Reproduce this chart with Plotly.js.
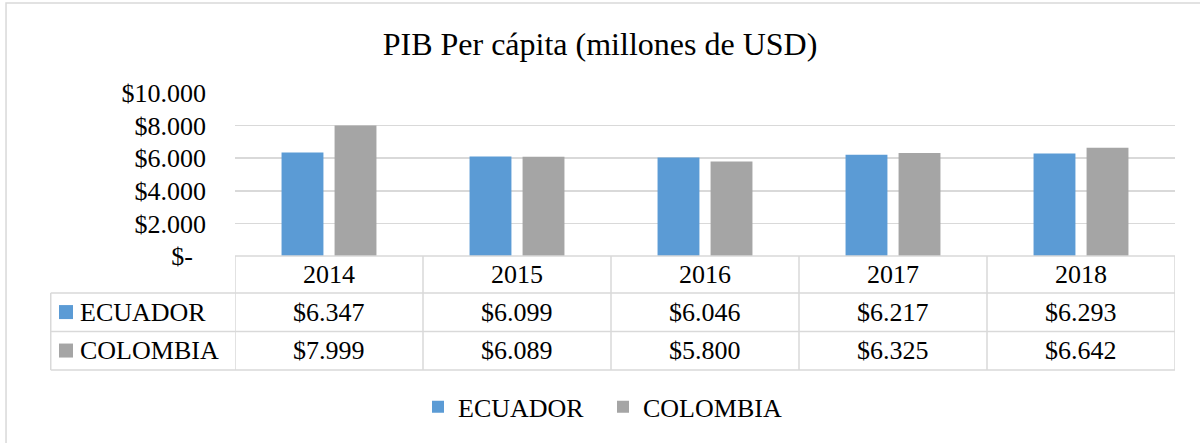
<!DOCTYPE html>
<html>
<head>
<meta charset="utf-8">
<script src="https://cdn.plot.ly/plotly-3.0.1.min.js"></script>
<style>html,body{margin:0;padding:0;background:#fff;}#chart{width:1200px;height:443px;}</style>
</head>
<body>
<div id="chart"></div>
<script>
const years = ['2014', '2015', '2016', '2017', '2018'];
const ecuador = [6347, 6099, 6046, 6217, 6293];
const colombia = [7999, 6089, 5800, 6325, 6642];
const seriesNames = ['ECUADOR', 'COLOMBIA'];
const yTickVals = [0, 2000, 4000, 6000, 8000, 10000];
const titleText = 'PIB Per cápita (millones de USD)';

const colors = ['#5B9BD5', '#A5A5A5'];
const FONT = '"Liberation Serif", "Times New Roman", serif';
const GRID = '#d9d9d9';

function fmt(v) {
  if (v === 0) return '$-\u00a0\u00a0';
  return '$' + v.toString().replace(/\B(?=(\d{3})+(?!\d))/g, '.');
}

const seriesVals = [ecuador, colombia];

const traces = seriesVals.map((vals, i) => ({
  type: 'bar',
  name: seriesNames[i],
  x: years,
  y: vals,
  marker: {color: colors[i]},
  hoverinfo: 'none'
}));

// Table geometry in paper coords (plot area spans y 0..1)
const yHeaderTop = 0, yRow1Top = -0.227, yRow2Top = -0.463, yBottom = -0.699;
const rowCenters = [-0.113, -0.344, -0.580];
const xLeft = -0.196;

const lineStyle = {color: GRID, width: 1.5};
const shapes = [];
// outer frame
shapes.push({type: 'rect', xref: 'paper', yref: 'paper', x0: -0.2436, x1: 1.05, y0: -1.2, y1: 1.552,
  line: {color: GRID, width: 1.5}, fillcolor: 'rgba(0,0,0,0)', layer: 'below'});
// horizontal lines
shapes.push({type: 'line', xref: 'x', yref: 'paper', x0: -0.5, x1: years.length - 0.5, y0: yHeaderTop, y1: yHeaderTop, line: lineStyle});
[yRow1Top, yRow2Top, yBottom].forEach(y => {
  shapes.push({type: 'line', xref: 'paper', yref: 'paper', x0: xLeft, x1: 1, y0: y, y1: y, line: lineStyle});
});
// vertical lines
for (let k = 0; k <= years.length; k++) {
  shapes.push({type: 'line', xref: 'x', yref: 'paper', x0: k - 0.5, x1: k - 0.5, y0: yHeaderTop, y1: yBottom, line: lineStyle});
}
shapes.push({type: 'line', xref: 'paper', yref: 'paper', x0: xLeft, x1: xLeft, y0: yRow1Top, y1: yBottom, line: lineStyle});
// legend keys in table
const keyX0 = (59 - 235) / 940, keyX1 = (73 - 235) / 940;
seriesNames.forEach((n, i) => {
  const yc = rowCenters[i + 1];
  shapes.push({type: 'rect', xref: 'paper', yref: 'paper', x0: keyX0, x1: keyX1,
    y0: yc - 7 / 163, y1: yc + 7 / 163, line: {width: 0}, fillcolor: colors[i]});
});

const annotations = [];
years.forEach((yr, j) => {
  annotations.push({xref: 'x', yref: 'paper', x: j, y: rowCenters[0], text: yr, showarrow: false,
    xanchor: 'center', yanchor: 'middle', font: {family: FONT, size: 26, color: '#000'}});
  seriesVals.forEach((vals, i) => {
    annotations.push({xref: 'x', yref: 'paper', x: j, y: rowCenters[i + 1], text: fmt(vals[j]), showarrow: false,
      xanchor: 'center', yanchor: 'middle', font: {family: FONT, size: 26, color: '#000'}});
  });
});
seriesNames.forEach((n, i) => {
  annotations.push({xref: 'paper', yref: 'paper', x: (78 - 235) / 940, y: rowCenters[i + 1], text: n, showarrow: false,
    xanchor: 'left', yanchor: 'middle', font: {family: FONT, size: 26, color: '#000'}});
});

const layout = {
  width: 1200, height: 443,
  margin: {l: 235, r: 25, t: 93, b: 187, pad: 0},
  paper_bgcolor: '#fff', plot_bgcolor: '#fff',
  font: {family: FONT, size: 26, color: '#000'},
  title: {text: titleText, font: {family: FONT, size: 32, color: '#000'},
    x: 0.5, xref: 'container', xanchor: 'center', y: 1 - 44 / 443, yref: 'container', yanchor: 'middle'},
  barmode: 'group', bargap: 0.436, bargroupgap: 0.21,
  xaxis: {type: 'category', range: [-0.5, years.length - 0.5], showticklabels: false, showgrid: false,
    zeroline: false, showline: false, ticks: '', fixedrange: true},
  yaxis: {range: [0, 10000], tickvals: yTickVals, ticktext: yTickVals.map(fmt), showgrid: true,
    gridcolor: GRID, gridwidth: 1.5, zeroline: false, showline: false, ticks: '', ticklabelstandoff: 28,
    tickfont: {family: FONT, size: 26, color: '#000'}, fixedrange: true},
  showlegend: true,
  legend: {orientation: 'h', x: (418 - 235) / 940, xanchor: 'left', y: -0.926, yanchor: 'middle',
    entrywidth: 140, entrywidthmode: 'pixels',
    font: {family: FONT, size: 26, color: '#000'}, bgcolor: 'rgba(0,0,0,0)', itemclick: false, itemdoubleclick: false},
  shapes: shapes,
  annotations: annotations
};

Plotly.newPlot('chart', traces, layout, {displayModeBar: false, staticPlot: true});
</script>
</body>
</html>
